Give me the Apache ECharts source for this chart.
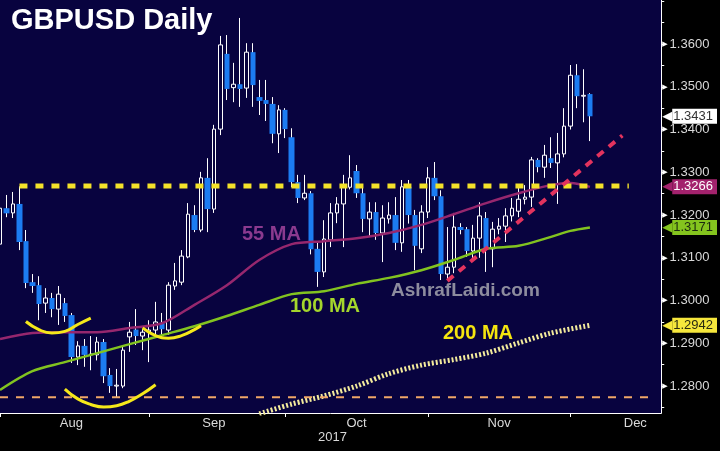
<!DOCTYPE html>
<html>
<head>
<meta charset="utf-8">
<script src="https://cdn.jsdelivr.net/npm/echarts@6/dist/echarts.min.js"></script>
<style>
  html, body { margin: 0; padding: 0; background: #000; }
  #chart { width: 720px; height: 451px; }
</style>
</head>
<body>
<div id="chart"></div>
<script>
// daily candles, GBPUSD, from 1 Aug 2017
const openP = [1.3132,1.3216,1.3205,1.3226,1.3139,1.3043,1.3036,1.2994,1.3006,1.2980,
  1.2994,1.2966,1.2868,1.2894,1.2873,1.2873,1.2903,1.2826,1.2800,1.2800,
  1.2915,1.2932,1.2917,1.2926,1.2931,1.2947,1.2931,1.3034,1.3043,1.3102,
  1.3200,1.3165,1.3287,1.3214,1.3401,1.3577,1.3498,1.3506,1.3497,1.3581,
  1.3476,1.3469,1.3460,1.3390,1.3446,1.3382,1.3277,1.3240,1.3251,1.3121,
  1.3067,1.3142,1.3205,1.3226,1.3265,1.3303,1.3251,1.3191,1.3207,1.3158,
  1.3191,1.3200,1.3135,1.3266,1.3200,1.3121,1.3207,1.3287,1.3244,1.3062,
  1.3078,1.3172,1.3167,1.3116,1.3146,1.3193,1.3121,1.3167,1.3174,1.3198,
  1.3209,1.3237,1.3242,1.3329,1.3312,1.3333,1.3322,1.3343,1.3408,1.3527,
  1.3478,1.3483]
const highP = [1.3228,1.3247,1.3254,1.3267,1.3165,1.3062,1.3057,1.3029,1.3018,1.3034,
  1.3006,1.2971,1.2905,1.2910,1.2917,1.2915,1.2910,1.2842,1.2840,1.2896,
  1.2950,1.2980,1.2933,1.2954,1.2997,1.2971,1.3043,1.3088,1.3118,1.3228,
  1.3223,1.3301,1.3333,1.3411,1.3619,1.3621,1.3556,1.3661,1.3602,1.3602,
  1.3516,1.3516,1.3476,1.3457,1.3450,1.3403,1.3294,1.3294,1.3256,1.3135,
  1.3188,1.3228,1.3242,1.3294,1.3340,1.3317,1.3266,1.3230,1.3230,1.3223,
  1.3230,1.3242,1.3282,1.3282,1.3212,1.3223,1.3312,1.3324,1.3258,1.3172,
  1.3205,1.3181,1.3172,1.3177,1.3230,1.3207,1.3184,1.3193,1.3216,1.3240,
  1.3263,1.3270,1.3336,1.3333,1.3364,1.3382,1.3392,1.3450,1.3551,1.3553,
  1.3541,1.3485]
const lowP = [1.3102,1.3195,1.3193,1.3118,1.3029,1.3018,1.2954,1.2971,1.2961,1.2943,
  1.2950,1.2854,1.2849,1.2845,1.2837,1.2860,1.2807,1.2784,1.2774,1.2795,
  1.2880,1.2896,1.2884,1.2856,1.2920,1.2915,1.2920,1.3025,1.3036,1.3099,
  1.3160,1.3160,1.3160,1.3205,1.3387,1.3469,1.3464,1.3453,1.3474,1.3453,
  1.3434,1.3420,1.3368,1.3345,1.3380,1.3265,1.3228,1.3235,1.3108,1.3032,
  1.3055,1.3125,1.3181,1.3125,1.3260,1.3240,1.3160,1.3149,1.3142,1.3090,
  1.3180,1.3118,1.3114,1.3180,1.3071,1.3111,1.3193,1.3235,1.3048,1.3048,
  1.3064,1.3155,1.3102,1.3095,1.3100,1.3067,1.3078,1.3155,1.3137,1.3185,
  1.3195,1.3225,1.3219,1.3300,1.3287,1.3310,1.3226,1.3335,1.3400,1.3450,
  1.3417,1.3373]
const closeP = [1.3216,1.3204,1.3226,1.3137,1.3041,1.3034,1.2992,1.3006,1.2980,1.3015,
  1.2964,1.2868,1.2894,1.2873,1.2875,1.2903,1.2823,1.2800,1.2802,1.2884,
  1.2926,1.2917,1.2926,1.2931,1.2950,1.2933,1.3036,1.3046,1.3104,1.3202,
  1.3165,1.3287,1.3214,1.3401,1.3598,1.3495,1.3506,1.3495,1.3581,1.3504,
  1.3467,1.3460,1.3390,1.3446,1.3401,1.3277,1.3240,1.3251,1.3120,1.3067,
  1.3144,1.3205,1.3226,1.3266,1.3287,1.3251,1.3191,1.3207,1.3158,1.3193,
  1.3200,1.3135,1.3266,1.3200,1.3128,1.3207,1.3287,1.3244,1.3062,1.3078,
  1.3172,1.3165,1.3116,1.3146,1.3198,1.3121,1.3167,1.3174,1.3198,1.3216,
  1.3237,1.3242,1.3329,1.3312,1.3340,1.3322,1.3343,1.3408,1.3527,1.3478,
  1.3480,1.3431]

// moving averages read at these day indexes
const maIdx = [0, 5, 10, 15, 20, 25, 30, 35, 40, 45, 50, 55, 60, 65, 70, 75, 80, 85, 88, 91]
const ma55 = [1.2910,1.2924,1.2926,1.2926,1.2936,1.2947,1.2990,1.3036,1.3095,1.3132,
  1.3139,1.3146,1.3158,1.3177,1.3202,1.3228,1.3251,1.3270,1.3275,1.3266]
const ma100 = [1.2791,1.2835,1.2856,1.2877,1.2898,1.2919,1.2940,1.2964,1.2990,1.3015,
  1.3022,1.3039,1.3053,1.3071,1.3095,1.3121,1.3128,1.3149,1.3163,1.3171]
const ma200Idx = [40, 45, 50, 55, 60, 65, 70, 75, 80, 85, 91]
const ma200 = [1.2735,1.2758,1.2777,1.2800,1.2829,1.2849,1.2862,1.2877,1.2901,1.2924,1.2942]

// annotations (day index, price)
const resistance = [[3, 1.3268], [97, 1.3268]]
const supportLow = [[0, 1.2774], [101, 1.2774]]
const trendLine = [[69, 1.3046], [96, 1.3386]]
const arcA = [[4, 1.2951], [6, 1.2932], [8, 1.2924], [10, 1.2928], [12, 1.2944], [14, 1.2959]]
const arcB = [[10, 1.2793], [12, 1.2770], [14, 1.2757], [16, 1.2751], [18, 1.2754], [20, 1.2765], [22, 1.2782], [24, 1.2803]]
const arcC = [[22, 1.2936], [24, 1.2918], [26, 1.2912], [28, 1.2918], [30, 1.2932], [31, 1.2941]]

// price tags on the right axis
const tagValues = [1.3431, 1.3266, 1.3171, 1.2942]
const tagKeys = ['last', 'ma55', 'ma100', 'ma200']

const yLabels = [1.28, 1.29, 1.30, 1.31, 1.32, 1.33, 1.34, 1.35, 1.36]
const yTicks = [1.275, 1.28, 1.285, 1.29, 1.295, 1.30, 1.305, 1.31, 1.315, 1.32, 1.325, 1.33, 1.335, 1.34, 1.345, 1.35, 1.355, 1.36, 1.365, 1.37]
const monthNames = ['Jan', 'Feb', 'Mar', 'Apr', 'May', 'Jun', 'Jul', 'Aug', 'Sep', 'Oct', 'Nov', 'Dec']

// weekdays Aug..Dec 2017
let allDays = []
let d = new Date(Date.UTC(2017, 7, 1))
while (d.getUTCFullYear() === 2017) {
  let wd = d.getUTCDay()
  if (wd !== 0 && wd !== 6) allDays.push(d.toISOString().slice(0, 10))
  d = new Date(d.getTime() + 86400000)
}
const categories = allDays.slice(0, 103)
let monthStarts = []
allDays.forEach((s, i) => {
  if (i === 0 || s.slice(5, 7) !== allDays[i - 1].slice(5, 7)) monthStarts.push(i)
})
let labelAt = {}
monthStarts.forEach((s, k) => {
  let next = k + 1 < monthStarts.length ? monthStarts[k + 1] : allDays.length
  labelAt[Math.floor((s + next) / 2)] = monthNames[parseInt(allDays[s].slice(5, 7)) - 1]
})

const wickData = highP.map((h, i) => [lowP[i], h, lowP[i], h])
const upData = openP.map((o, i) => closeP[i] >= o ? [o, closeP[i], o, closeP[i]] : '-')
const downData = openP.map((o, i) => closeP[i] < o ? [o, closeP[i], closeP[i], o] : '-')
const pairs = (idx, vals) => idx.map((x, i) => [x, vals[i]])

const font = '"Liberation Sans", Arial, sans-serif'
const navy = '#08033f'

let myChart = echarts.init(document.getElementById('chart'))
myChart.setOption({
  animation: false,
  backgroundColor: '#000',
  grid: { left: 0, right: 57, top: 0, bottom: 38, show: true, backgroundColor: navy, borderWidth: 0 },
  xAxis: {
    type: 'category',
    data: categories,
    boundaryGap: false,
    axisLine: { lineStyle: { color: '#fff', width: 1 } },
    axisTick: { length: 4, lineStyle: { color: '#fff' }, interval: (i) => monthStarts.includes(i) },
    axisLabel: {
      interval: (i) => labelAt[i] !== undefined,
      formatter: (v, i) => labelAt[i] || '',
      color: '#d9d9d9', fontSize: 13, fontFamily: font, margin: 4
    },
    splitLine: { show: false }
  },
  yAxis: [
    {
      type: 'value', position: 'right', min: 1.2737, max: 1.3703,
      axisLine: { show: true, lineStyle: { color: '#fff' } },
      axisTick: { show: true, length: 3, lineStyle: { color: '#fff' }, customValues: yTicks },
      axisLabel: {
        customValues: yLabels, margin: 1,
        formatter: (v) => '{a|▶}{b|' + v.toFixed(4) + '}',
        rich: {
          a: { color: '#fff', fontSize: 7, fontFamily: 'DejaVu Sans', padding: [0, 2, 0, 0] },
          b: { color: '#d9d9d9', fontSize: 13, fontFamily: font }
        }
      },
      splitLine: { show: false }
    },
    {
      type: 'value', position: 'right', min: 1.2737, max: 1.3703, z: 5,
      axisLine: { show: false }, axisTick: { show: false }, splitLine: { show: false },
      axisLabel: {
        customValues: tagValues, margin: 1,
        formatter: (v) => {
          let k = tagKeys[tagValues.indexOf(v)]
          return '{' + k + 'A|◀}{' + k + '|' + v.toFixed(4) + '}'
        },
        rich: {
          lastA: { color: '#fff', fontSize: 13, fontFamily: 'DejaVu Sans' },
          last: { color: '#333', backgroundColor: '#fff', fontSize: 13, fontFamily: font, padding: [1, 4, 1, 1], lineHeight: 13 },
          ma55A: { color: '#a3226d', fontSize: 13, fontFamily: 'DejaVu Sans' },
          ma55: { color: '#fff', backgroundColor: '#a3226d', fontSize: 13, fontFamily: font, padding: [1, 4, 1, 1], lineHeight: 13 },
          ma100A: { color: '#84c41e', fontSize: 13, fontFamily: 'DejaVu Sans' },
          ma100: { color: '#1c2a10', backgroundColor: '#84c41e', fontSize: 13, fontFamily: font, padding: [1, 4, 1, 1], lineHeight: 13 },
          ma200A: { color: '#f6e73c', fontSize: 13, fontFamily: 'DejaVu Sans' },
          ma200: { color: '#2a2a10', backgroundColor: '#f6e73c', fontSize: 13, fontFamily: font, padding: [1, 4, 1, 1], lineHeight: 13 }
        }
      }
    }
  ],
  series: [
    {
      name: 'wicks', type: 'candlestick', data: wickData, barWidth: 1, silent: true,
      itemStyle: { color: '#fff', color0: '#fff', borderWidth: 1, borderColor: '#fff', borderColor0: '#fff', borderColorDoji: '#fff' }
    },
    {
      name: 'up', type: 'candlestick', data: upData, barWidth: 4, silent: true,
      itemStyle: { color: navy, color0: navy, borderColor: '#fff', borderColor0: '#fff', borderColorDoji: '#fff', borderWidth: 1 }
    },
    {
      name: 'down', type: 'candlestick', data: downData, barWidth: 6, silent: true,
      itemStyle: { color: '#1c7cf2', color0: '#1c7cf2', borderColor: '#1c7cf2', borderColor0: '#1c7cf2', borderColorDoji: '#1c7cf2', borderWidth: 0 }
    },
    {
      name: '55 MA', type: 'line', data: pairs(maIdx, ma55), smooth: 0.3, symbol: 'none', silent: true,
      lineStyle: { color: '#96276e', width: 2.5 }
    },
    {
      name: '100 MA', type: 'line', data: pairs(maIdx, ma100), smooth: 0.3, symbol: 'none', silent: true,
      lineStyle: { color: '#82c320', width: 2.5 }
    },
    {
      name: '200 MA', type: 'line', data: pairs(ma200Idx, ma200), smooth: 0.3, symbol: 'none', silent: true,
      lineStyle: { color: '#f3eb9c', width: 5, type: [2, 2] }
    },
    {
      name: 'resistance', type: 'line', data: resistance, symbol: 'none', silent: true,
      lineStyle: { color: '#f3e22a', width: 5, type: [8, 8] }
    },
    {
      name: 'low', type: 'line', data: supportLow, symbol: 'none', silent: true,
      lineStyle: { color: '#f0a868', width: 2, type: [8, 8] }
    },
    {
      name: 'trend', type: 'line', data: trendLine, symbol: 'none', silent: true,
      lineStyle: { color: '#e3335e', width: 4, type: [8, 7] }
    },
    { name: 'arcA', type: 'line', data: arcA, smooth: true, symbol: 'none', silent: true, lineStyle: { color: '#f5e81a', width: 3 } },
    { name: 'arcB', type: 'line', data: arcB, smooth: true, symbol: 'none', silent: true, lineStyle: { color: '#f5e81a', width: 3 } },
    { name: 'arcC', type: 'line', data: arcC, smooth: true, symbol: 'none', silent: true, lineStyle: { color: '#f5e81a', width: 3 } }
  ],
  graphic: [
    { type: 'text', left: 11, top: 6, z: 100, style: { text: 'GBPUSD Daily', fill: '#fff', font: 'bold 29px ' + font } },
    { type: 'text', left: 242, top: 224, z: 100, style: { text: '55 MA', fill: '#8b3a8f', font: 'bold 20px ' + font } },
    { type: 'text', left: 290, top: 296, z: 100, style: { text: '100 MA', fill: '#a4d62c', font: 'bold 20px ' + font } },
    { type: 'text', left: 443, top: 323, z: 100, style: { text: '200 MA', fill: '#f5e50f', font: 'bold 20px ' + font } },
    { type: 'text', left: 391, top: 281, z: 100, style: { text: 'AshrafLaidi.com', fill: '#8d8c9e', font: 'bold 19px ' + font } },
    { type: 'text', left: 318, top: 431, z: 100, style: { text: '2017', fill: '#d9d9d9', font: '13px ' + font } }
  ]
})
window.addEventListener('resize', function () {
  myChart.resize()
})
</script>
</body>
</html>
